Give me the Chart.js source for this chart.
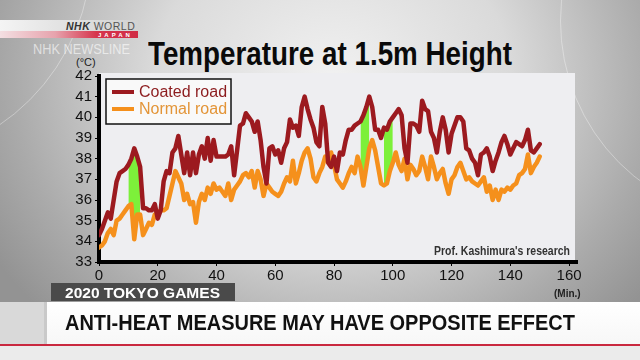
<!DOCTYPE html>
<html>
<head>
<meta charset="utf-8">
<script src="https://cdn.jsdelivr.net/npm/chart.js@4.4.0/dist/chart.umd.min.js"></script>
<style>
  body {
    margin: 0; width: 640px; height: 360px; overflow: hidden; position: relative;
    font-family: "Liberation Sans", Arial, sans-serif;
    background: radial-gradient(ellipse 62% 95% at 52% 22%, #f1f1f1 0%, #dadada 45%, #ababab 80%, #939393 100%);
  }
  .abs { position: absolute; white-space: nowrap; line-height: 1; transform-origin: 0 0; }
  .arc { position: absolute; border: 1px solid rgba(255,255,255,0.35); border-radius: 50%; }
  #logoTop { left: 0; top: 20px; width: 138px; height: 11px; background: linear-gradient(90deg, #f4f4f4 0%, #e2e2e2 45%, #d2d2d2 100%); }
  #logoRed { left: 0; top: 31px; width: 138px; height: 7px; background: linear-gradient(90deg, #f3dfe2 0%, #e7a3ad 40%, #d6344c 70%, #d02c45 100%); }
  #band { left: 0; top: 302px; width: 640px; height: 42px; background: #d9d9d9; }
  #bandWhite { left: 44px; top: 302px; width: 596px; height: 42px; background: linear-gradient(180deg, #ffffff 0%, #f7f7f7 100%); border-left: 3px solid #c9c9c9; }
  #redLine { left: 0; top: 344px; width: 640px; height: 2px; background: #c9283f; }
  #below { left: 0; top: 346px; width: 640px; height: 14px; background: #ebebeb; }
  #tag { left: 51px; top: 283px; width: 184px; height: 18px; background: #4a4a4a; }
</style>
</head>
<body>
<div class="arc" style="left:-330px; top:-260px; width:420px; height:420px;"></div>
<div class="arc" style="left:560px; top:-180px; width:400px; height:400px;"></div>

<div class="abs" id="logoTop"></div>
<div class="abs" id="logoRed"></div>
<div class="abs" style="left:66px; top:21px; font-size:10.5px; color:#333; letter-spacing:0.5px;"><b><i>NHK</i></b> <span style="color:#555">WORLD</span></div>
<div class="abs" style="left:98px; top:31.5px; font-size:6px; color:#fff; font-weight:bold; letter-spacing:3px;">JAPAN</div>
<div class="abs" data-w="97" style="left:33px; top:41.5px; font-size:14px; color:rgba(255,255,255,0.6);">NHK NEWSLINE</div>

<div class="abs" data-w="364" style="left:148px; top:37px; font-size:33px; font-weight:bold; color:#0a0a0a;">Temperature at 1.5m Height</div>
<div class="abs" style="left:76px; top:57px; font-size:11px; color:#222;">(°C)</div>

<canvas id="myChart" width="640" height="360" style="position:absolute; left:0; top:0;"></canvas>

<div class="abs" data-w="136" style="left:434px; top:245px; font-size:12.5px; font-weight:bold; color:#333;">Prof. Kashimura's research</div>
<div class="abs" style="left:554px; top:289px; font-size:10px; font-weight:bold; color:#222;">(Min.)</div>

<div class="abs" id="band"></div>
<div class="abs" id="bandWhite"></div>
<div class="abs" id="redLine"></div>
<div class="abs" id="below"></div>
<div class="abs" id="tag"></div>
<div class="abs" data-w="155" style="left:65px; top:284.6px; font-size:15px; font-weight:bold; color:#fff;">2020 TOKYO GAMES</div>
<div class="abs" data-w="510" style="left:65px; top:312.4px; font-size:22px; font-weight:bold; color:#111;">ANTI-HEAT MEASURE MAY HAVE OPPOSITE EFFECT</div>

<script>
// temperature every minute, 0..150 min
const coatedRoad = [
  34.3, 34.6, 35.0, 35.4, 35.1, 36.0, 36.9, 37.3, 37.4, 37.5,
  37.7, 38.0, 38.5, 38.1, 37.6, 35.6, 35.6, 35.5, 35.5, 35.8,
  35.1, 35.5, 36.9, 37.4, 37.3, 38.3, 38.5, 39.1, 38.2, 37.3,
  38.3, 37.2, 38.3, 37.3, 38.2, 38.6, 38.0, 39.0, 37.9, 38.9,
  38.1, 38.1, 38.1, 38.1, 38.2, 38.6, 37.2, 38.4, 39.6, 39.7,
  40.2, 40.0, 39.8, 39.3, 39.8, 38.9, 37.6, 36.8, 38.5, 38.6,
  38.2, 38.4, 37.8, 38.5, 38.8, 39.9, 39.5, 39.6, 39.1, 40.5,
  41.0, 40.4, 39.9, 39.5, 38.8, 38.6, 40.5, 39.7, 37.8, 37.6,
  38.1, 37.4, 38.3, 38.2, 38.9, 39.4, 39.4, 39.6, 39.7, 39.8,
  40.1, 40.5, 41.0, 40.5, 39.4, 39.4, 39.0, 39.5, 39.4, 39.8,
  40.0, 40.2, 40.4, 40.1, 38.5, 37.8, 39.7, 39.7, 39.6, 39.3,
  40.8, 40.4, 40.3, 39.3, 39.0, 38.3, 39.3, 40.0, 39.4, 38.3,
  39.2, 39.6, 40.0, 40.0, 39.8, 38.5, 38.4, 38.0, 37.8, 37.2,
  38.2, 38.3, 38.5, 38.1, 37.4, 37.9, 38.3, 38.8, 39.1, 38.7,
  38.2, 38.5, 38.8, 38.7, 38.6, 38.9, 39.4, 38.4, 38.3, 38.5,
  38.7
];
const normalRoad = [
  33.7, 33.8, 34.0, 34.4, 34.6, 34.3, 35.0, 35.1, 35.3, 35.5,
  35.7, 35.8, 34.1, 35.3, 35.3, 34.3, 34.6, 34.9, 34.8, 35.3,
  35.4, 35.5, 35.5, 35.6, 36.2, 36.8, 37.4, 37.1, 36.8, 36.0,
  36.3, 35.8, 35.9, 34.9, 35.9, 36.3, 36.0, 36.6, 36.3, 36.8,
  36.5, 36.6, 36.4, 36.2, 36.8, 36.0, 36.5, 36.7, 36.9, 37.2,
  37.3, 37.1, 37.4, 36.6, 37.4, 37.0, 36.2, 36.8, 36.6, 36.4,
  36.3, 36.2, 36.4, 36.8, 37.1, 36.9, 37.9, 36.8, 37.3, 37.9,
  38.3, 38.5, 38.0, 37.1, 36.9, 37.3, 37.6, 38.1, 37.9, 38.3,
  37.7, 37.0, 36.8, 36.6, 36.9, 37.3, 37.6, 37.3, 38.1, 37.6,
  36.7, 37.6, 38.5, 38.9, 38.4, 37.6, 36.8, 36.7, 36.8, 37.4,
  37.8, 38.3, 37.7, 37.4, 38.0, 37.0, 37.7, 37.5, 37.2, 37.4,
  38.1, 37.6, 37.0, 38.1, 37.6, 37.0, 37.3, 37.5, 36.8, 36.3,
  37.0, 37.2, 37.6, 37.8, 37.4, 37.0, 37.1, 36.9, 36.8, 36.7,
  36.9, 37.1, 36.4, 36.7, 36.0, 36.5, 36.0, 36.5, 36.4, 36.6,
  36.5, 36.7, 36.8, 37.2, 37.3, 37.5, 38.2, 37.3, 37.6, 37.8,
  38.1
];
const minuteStep = 1;
// minutes where the gap is shaded green [from, to]
const greenSpans = [[10, 14], [89, 92], [97, 100]];
const seriesNames = ['Coated road', 'Normal road'];
const xTicks = [0, 20, 40, 60, 80, 100, 120, 140, 160];
const yTicks = [33, 34, 35, 36, 37, 38, 39, 40, 41, 42];

const inGreen = m => greenSpans.some(s => m >= s[0] && m <= s[1]);
const toPoints = arr => arr.map((v, i) => ({x: i * minuteStep, y: v}));
const toGreen = arr => arr.map((v, i) => ({x: i * minuteStep, y: inGreen(i * minuteStep) ? v : null}));

const plotBg = {
  id: 'plotBg',
  beforeDraw(chart) {
    const {ctx, chartArea: a} = chart;
    ctx.save();
    ctx.fillStyle = '#eeeef1';
    ctx.fillRect(a.left, a.top - 3, a.right - a.left - 2, a.bottom - a.top + 3);
    ctx.restore();
  }
};

const legendBox = {
  id: 'legendBox',
  afterDraw(chart) {
    const {ctx, chartArea: a} = chart;
    const x = a.left + 7, y = a.top + 3, w = 125, h = 45;
    ctx.save();
    ctx.fillStyle = '#f9f9f9';
    ctx.fillRect(x, y, w, h);
    ctx.strokeStyle = '#111';
    ctx.lineWidth = 1.5;
    ctx.strokeRect(x, y, w, h);
    chart.data.datasets.slice(0, 2).forEach((ds, i) => {
      const ly = y + 13 + i * 17;
      ctx.strokeStyle = ds.borderColor;
      ctx.lineWidth = 4;
      ctx.beginPath();
      ctx.moveTo(x + 6, ly);
      ctx.lineTo(x + 28, ly);
      ctx.stroke();
      ctx.fillStyle = ds.textColor;
      ctx.font = '16px "Liberation Sans", Arial, sans-serif';
      ctx.textBaseline = 'middle';
      ctx.fillText(ds.label, x + 33, ly + 1);
    });
    ctx.restore();
  }
};

new Chart(document.getElementById('myChart'), {
  type: 'line',
  data: {
    datasets: [{
      label: seriesNames[0],
      data: toPoints(coatedRoad),
      borderColor: '#9c1a1f',
      textColor: '#8c1c1e',
      borderWidth: 4.5,
      borderJoinStyle: 'round',
      borderCapStyle: 'round',
      pointRadius: 0,
      tension: 0,
      fill: false
    }, {
      label: seriesNames[1],
      data: toPoints(normalRoad),
      borderColor: '#f5901c',
      textColor: '#e39538',
      borderWidth: 4.5,
      borderJoinStyle: 'round',
      borderCapStyle: 'round',
      pointRadius: 0,
      tension: 0,
      fill: false
    }, {
      label: 'gapTop',
      data: toGreen(coatedRoad),
      borderWidth: 0,
      borderColor: 'rgba(0,0,0,0)',
      backgroundColor: '#7df03a',
      pointRadius: 0,
      spanGaps: false,
      fill: '+1'
    }, {
      label: 'gapBottom',
      data: toGreen(normalRoad),
      borderWidth: 0,
      borderColor: 'rgba(0,0,0,0)',
      pointRadius: 0,
      spanGaps: false,
      fill: false
    }]
  },
  options: {
    responsive: false,
    animation: false,
    layout: {padding: {left: 69, top: 76, right: 63, bottom: 68}},
    plugins: {legend: {display: false}, tooltip: {enabled: false}},
    scales: {
      x: {
        type: 'linear', min: 0, max: 162.7,
        afterBuildTicks: s => { s.ticks = xTicks.map(v => ({value: v})); },
        afterFit: s => { s.height = 30; s.paddingLeft = 0; s.paddingRight = 0; },
        border: {display: true, width: 4, color: '#000'},
        grid: {drawOnChartArea: false, drawTicks: true, tickLength: 4, color: '#000', lineWidth: 1},
        ticks: {color: '#111', font: {size: 15, family: '"Liberation Sans", Arial, sans-serif'}, padding: 1, maxRotation: 0, autoSkip: false}
      },
      y: {
        min: 33, max: 42,
        afterBuildTicks: s => { s.ticks = yTicks.map(v => ({value: v})); },
        afterFit: s => { s.width = 30; s.paddingTop = 0; s.paddingBottom = 0; },
        border: {display: true, width: 4, color: '#000'},
        grid: {drawOnChartArea: false, drawTicks: true, tickLength: 4, color: '#000', lineWidth: 1},
        ticks: {color: '#111', font: {size: 15, family: '"Liberation Sans", Arial, sans-serif'}, padding: 3, autoSkip: false}
      }
    }
  },
  plugins: [plotBg, legendBox]
});

// squeeze the condensed broadcast captions to their widths
document.querySelectorAll('[data-w]').forEach(el => {
  const w = el.getBoundingClientRect().width;
  el.style.transform = 'scaleX(' + (el.dataset.w / w) + ')';
});
</script>
</body>
</html>
